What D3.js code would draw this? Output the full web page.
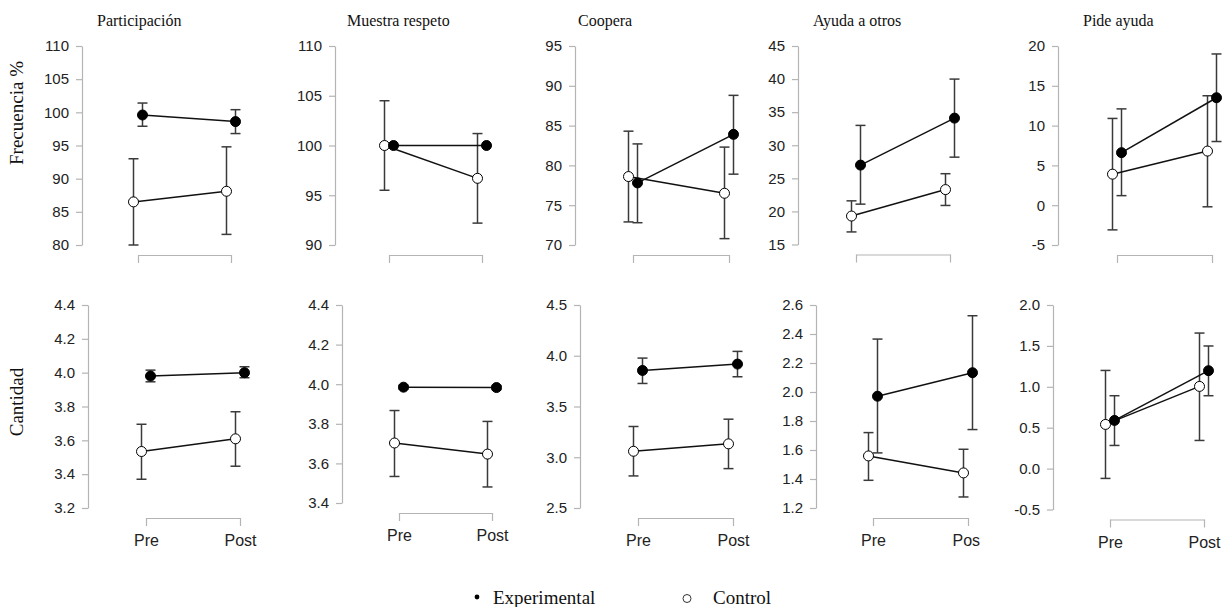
<!DOCTYPE html>
<html>
<head>
<meta charset="utf-8">
<script src="https://cdn.jsdelivr.net/npm/d3@7"></script>
<style>
  html, body { margin: 0; padding: 0; background: #fff; }
  svg { display: block; }
</style>
</head>
<body>
<svg id="chart" width="1225" height="607"></svg>
<script>
// ---- data -------------------------------------------------------------
const titles = ["Participación", "Muestra respeto", "Coopera", "Ayuda a otros", "Pide ayuda"];
const phases = ["Pre", "Post"];
const groupNames = ["Experimental", "Control"];
const rowLabels = ["Frecuencia %", "Cantidad"];

// Frecuencia %: [Pre, Post] per behaviour
const freqExpMean  = [[99.6, 98.6], [100.0, 100.0], [77.8, 83.9], [27.0, 34.1], [6.6, 13.5]];
const freqExpLow   = [[97.9, 96.8], [100.0, 100.0], [72.8, 78.9], [21.1, 28.2], [1.2, 8.0]];
const freqExpHigh  = [[101.4, 100.4], [100.0, 100.0], [82.7, 88.8], [33.0, 40.0], [12.1, 19.0]];
const freqCtrlMean = [[86.5, 88.1], [100.0, 96.7], [78.6, 76.5], [19.3, 23.3], [3.9, 6.8]];
const freqCtrlLow  = [[80.0, 81.6], [95.5, 92.2], [72.9, 70.8], [16.9, 20.9], [-3.1, -0.2]];
const freqCtrlHigh = [[93.0, 94.8], [104.5, 101.2], [84.3, 82.3], [21.6, 25.7], [10.9, 13.75]];

// Cantidad: [Pre, Post] per behaviour
const cantExpMean  = [[3.98, 4.00], [3.985, 3.983], [3.855, 3.918], [1.971, 2.133], [0.589, 1.197]];
const cantExpLow   = [[3.946, 3.97], [3.975, 3.973], [3.727, 3.793], [1.58, 1.741], [0.283, 0.891]];
const cantExpHigh  = [[4.015, 4.035], [3.995, 3.993], [3.977, 4.043], [2.365, 2.526], [0.891, 1.499]];
const cantCtrlMean = [[3.534, 3.609], [3.703, 3.647], [3.059, 3.132], [1.559, 1.442], [0.54, 1.005]];
const cantCtrlLow  = [[3.37, 3.447], [3.534, 3.481], [2.816, 2.888], [1.391, 1.276], [-0.12, 0.344]];
const cantCtrlHigh = [[3.695, 3.769], [3.867, 3.812], [3.303, 3.375], [1.72, 1.605], [1.2, 1.657]];

// y-axis ticks
const freqTicks = [
  [80, 85, 90, 95, 100, 105, 110],
  [90, 95, 100, 105, 110],
  [70, 75, 80, 85, 90, 95],
  [15, 20, 25, 30, 35, 40, 45],
  [-5, 0, 5, 10, 15, 20]
];
const cantTicks = [
  [3.2, 3.4, 3.6, 3.8, 4.0, 4.2, 4.4],
  [3.4, 3.6, 3.8, 4.0, 4.2, 4.4],
  [2.5, 3.0, 3.5, 4.0, 4.5],
  [1.2, 1.4, 1.6, 1.8, 2.0, 2.2, 2.4, 2.6],
  [-0.5, 0.0, 0.5, 1.0, 1.5, 2.0]
];

// ---- layout -----------------------------------------------------------
const serif = "'Liberation Serif','Times New Roman',Times,serif";
const sans = "'Liberation Sans',Arial,Helvetica,sans-serif";
const axisGrey = "#b4b4b4";
const barColor = "#3a3a3a";
const dodge = 4.5;
const markerR = 5;
const capHalf = 5;

// plain hyphen for negatives
const hyphen = f => (v => f(v).replace("\u2212", "-"));

const rows = [
  {
    label: rowLabels[0], labelY: 113, ticks: freqTicks, fmt: hyphen(d3.format("d")), showX: false,
    exp: { mean: freqExpMean, low: freqExpLow, high: freqExpHigh },
    ctrl: { mean: freqCtrlMean, low: freqCtrlLow, high: freqCtrlHigh },
    axisX: [82, 335, 575, 798, 1058],
    preX:  [138, 389, 633, 856, 1117],
    postX: [231, 482, 729, 950, 1212],
    yTop:  [46, 46, 46, 46, 46],
    yBot:  [245, 245, 245, 244.5, 245],
    clipRight: [1225, 1225, 1225, 1225, 1225]
  },
  {
    label: rowLabels[1], labelY: 402, ticks: cantTicks, fmt: hyphen(d3.format(".1f")), showX: true,
    exp: { mean: cantExpMean, low: cantExpLow, high: cantExpHigh },
    ctrl: { mean: cantCtrlMean, low: cantCtrlLow, high: cantCtrlHigh },
    axisX: [88, 342, 580, 816, 1053],
    preX:  [146, 399, 638, 873, 1110],
    postX: [240, 492, 733, 968, 1204],
    yTop:  [305, 305, 305, 305, 305],
    yBot:  [508, 503, 508, 508, 509.5],
    clipRight: [1225, 1225, 1225, 980, 1225]
  }
];

const titleX = [97, 347, 578, 813, 1083];

const svg = d3.select("#chart");
const defs = svg.append("defs");

// panel titles
svg.selectAll("text.title")
  .data(titles)
  .join("text")
  .attr("class", "title")
  .attr("x", (d, i) => titleX[i])
  .attr("y", 26)
  .attr("font-family", serif)
  .attr("font-size", 16)
  .attr("fill", "#111")
  .text(d => d);

rows.forEach((row, r) => {
  // row label (rotated)
  svg.append("text")
    .attr("transform", `translate(23,${row.labelY}) rotate(-90)`)
    .attr("text-anchor", "middle")
    .attr("font-family", serif)
    .attr("font-size", 19)
    .attr("fill", "#111")
    .text(row.label);

  titles.forEach((t, i) => {
    const clipId = `clip-${r}-${i}`;
    defs.append("clipPath").attr("id", clipId)
      .append("rect")
      .attr("x", row.axisX[i] - 80).attr("y", row.yTop[i] - 30)
      .attr("width", row.clipRight[i] - (row.axisX[i] - 80))
      .attr("height", 280);

    const g = svg.append("g").attr("clip-path", `url(#${clipId})`);

    const y = d3.scaleLinear()
      .domain(d3.extent(row.ticks[i]))
      .range([row.yBot[i], row.yTop[i]]);
    const x = d3.scalePoint()
      .domain(phases)
      .range([row.preX[i], row.postX[i]]);

    // y axis
    const ya = g.append("g")
      .attr("transform", `translate(${row.axisX[i]},0)`)
      .call(d3.axisLeft(y)
        .tickValues(row.ticks[i])
        .tickFormat(row.fmt)
        .tickSize(6)
        .tickSizeOuter(0)
        .tickPadding(7));
    ya.select(".domain").attr("stroke", axisGrey).attr("stroke-width", 1.2);
    ya.selectAll(".tick line").attr("stroke", axisGrey).attr("stroke-width", 1.2);
    ya.selectAll(".tick text")
      .attr("font-family", sans).attr("font-size", 15).attr("fill", "#222");

    // x axis bracket
    const xa = g.append("g")
      .attr("transform", `translate(0,${row.yBot[i] + 10})`)
      .call(d3.axisBottom(x)
        .tickSize(8)
        .tickSizeOuter(0)
        .tickPadding(9)
        .tickFormat(row.showX ? (d => d) : (() => "")));
    xa.select(".domain").attr("stroke", axisGrey).attr("stroke-width", 1.2);
    xa.selectAll(".tick line").attr("stroke", axisGrey).attr("stroke-width", 1.2);
    xa.selectAll(".tick text")
      .attr("font-family", sans).attr("font-size", 16).attr("fill", "#222");

    const series = [
      { key: groupNames[1], vals: row.ctrl, off: -dodge, fill: "#fff" },
      { key: groupNames[0], vals: row.exp, off: dodge, fill: "#000" }
    ];

    const pts = series.map(s => phases.map((p, k) => ({
      x: x(p) + s.off,
      mean: s.vals.mean[i][k],
      low: s.vals.low[i][k],
      high: s.vals.high[i][k],
      fill: s.fill
    })));

    // error bars
    pts.forEach(ps => {
      const eb = g.append("g");
      eb.selectAll("line.v").data(ps).join("line")
        .attr("x1", d => d.x).attr("x2", d => d.x)
        .attr("y1", d => y(d.low)).attr("y2", d => y(d.high))
        .attr("stroke", barColor).attr("stroke-width", 1.5);
      eb.selectAll("line.top").data(ps).join("line")
        .attr("x1", d => d.x - capHalf).attr("x2", d => d.x + capHalf)
        .attr("y1", d => y(d.high)).attr("y2", d => y(d.high))
        .attr("stroke", barColor).attr("stroke-width", 1.5);
      eb.selectAll("line.bot").data(ps).join("line")
        .attr("x1", d => d.x - capHalf).attr("x2", d => d.x + capHalf)
        .attr("y1", d => y(d.low)).attr("y2", d => y(d.low))
        .attr("stroke", barColor).attr("stroke-width", 1.5);
    });

    // connecting lines
    const line = d3.line().x(d => d.x).y(d => y(d.mean));
    pts.forEach(ps => {
      g.append("path").datum(ps)
        .attr("d", line)
        .attr("fill", "none")
        .attr("stroke", "#111")
        .attr("stroke-width", 1.5);
    });

    // markers
    pts.forEach(ps => {
      g.append("g").selectAll("circle").data(ps).join("circle")
        .attr("cx", d => d.x).attr("cy", d => y(d.mean))
        .attr("r", markerR)
        .attr("fill", d => d.fill)
        .attr("stroke", "#000")
        .attr("stroke-width", 1);
    });
  });
});

// legend
const legend = svg.append("g");
legend.append("circle").attr("cx", 477).attr("cy", 597).attr("r", 2.4).attr("fill", "#000");
legend.append("text").attr("x", 493).attr("y", 604)
  .attr("font-family", serif).attr("font-size", 19).attr("fill", "#111")
  .text(groupNames[0]);
legend.append("circle").attr("cx", 687).attr("cy", 598.5).attr("r", 4)
  .attr("fill", "#fff").attr("stroke", "#333").attr("stroke-width", 1);
legend.append("text").attr("x", 713).attr("y", 604)
  .attr("font-family", serif).attr("font-size", 19).attr("fill", "#111")
  .text(groupNames[1]);
</script>
</body>
</html>
